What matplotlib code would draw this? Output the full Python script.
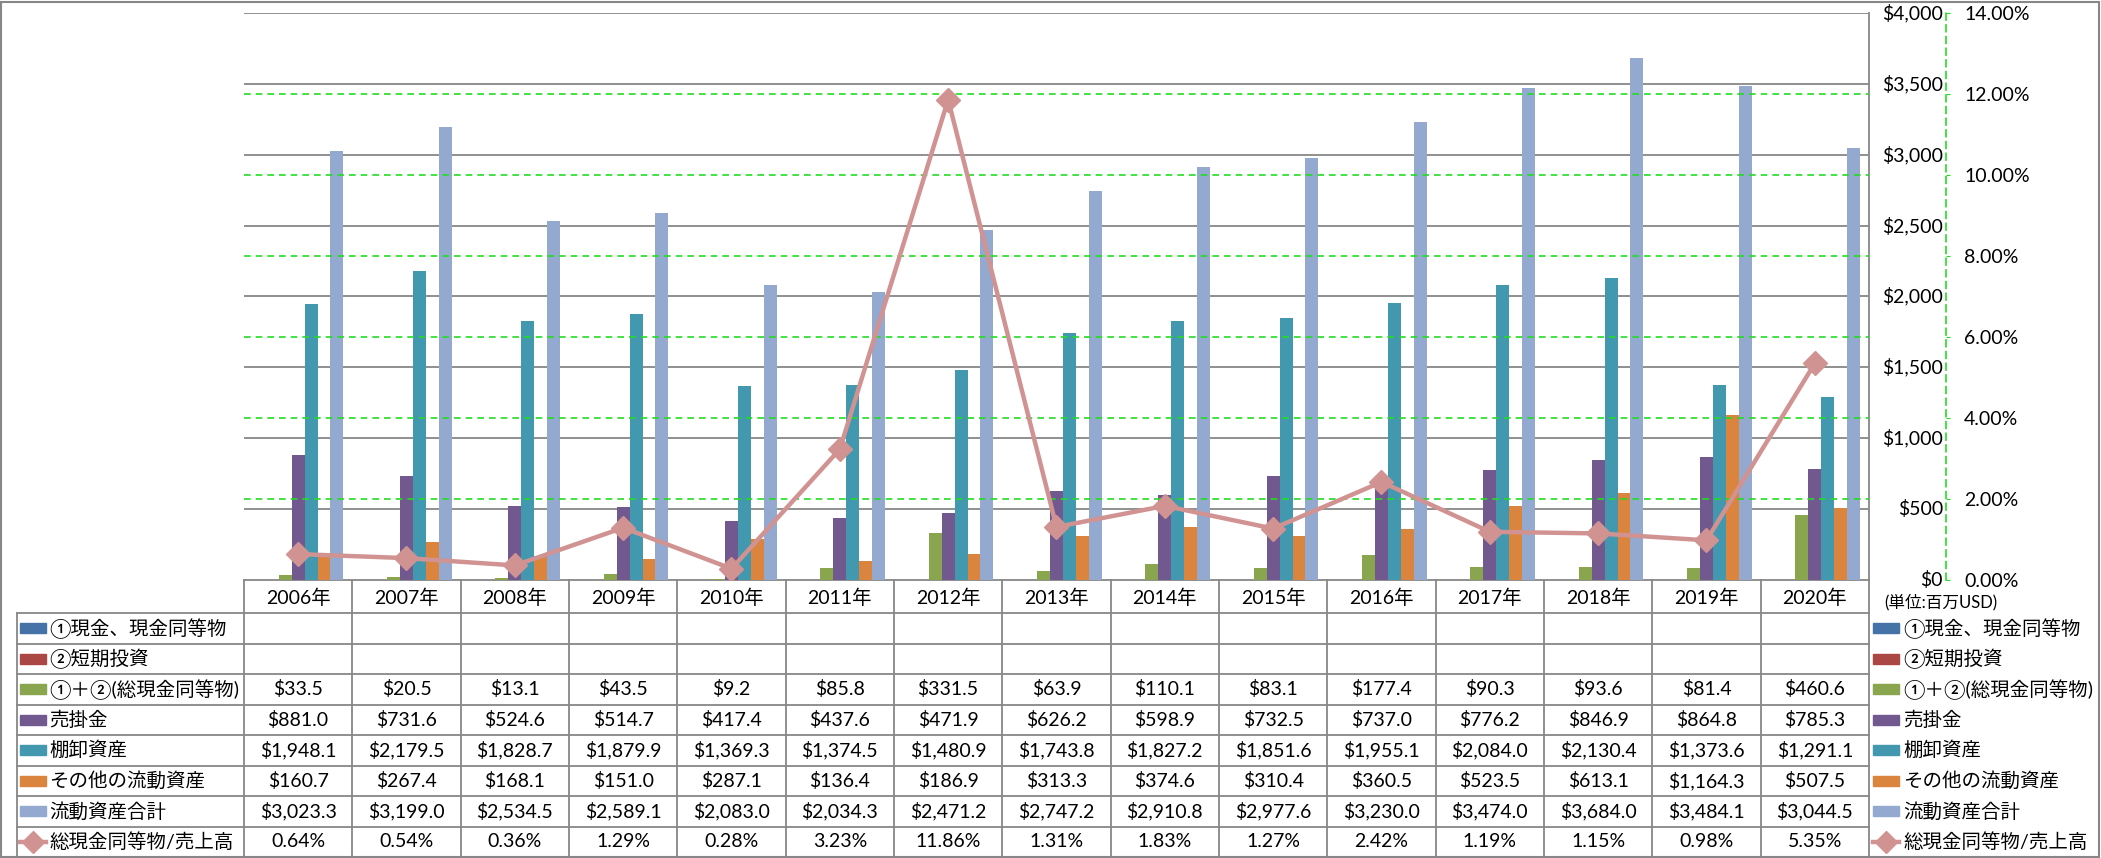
import matplotlib
matplotlib.use("Agg")
import matplotlib.pyplot as plt
import numpy as np
from matplotlib.lines import Line2D
from matplotlib.patches import Rectangle
from matplotlib.transforms import Affine2D, blended_transform_factory

# ---------------- data ----------------
years = ["2006年", "2007年", "2008年", "2009年", "2010年", "2011年", "2012年", "2013年",
         "2014年", "2015年", "2016年", "2017年", "2018年", "2019年", "2020年"]
series_names = ["①現金、現金同等物", "②短期投資", "①＋②(総現金同等物)", "売掛金",
                "棚卸資産", "その他の流動資産", "流動資産合計"]
cash = [None] * 15
short_inv = [None] * 15
total_cash = [33.5, 20.5, 13.1, 43.5, 9.2, 85.8, 331.5, 63.9, 110.1, 83.1, 177.4, 90.3, 93.6, 81.4, 460.6]
receivables = [881.0, 731.6, 524.6, 514.7, 417.4, 437.6, 471.9, 626.2, 598.9, 732.5, 737.0, 776.2, 846.9, 864.8, 785.3]
inventory = [1948.1, 2179.5, 1828.7, 1879.9, 1369.3, 1374.5, 1480.9, 1743.8, 1827.2, 1851.6, 1955.1, 2084.0, 2130.4, 1373.6, 1291.1]
other_ca = [160.7, 267.4, 168.1, 151.0, 287.1, 136.4, 186.9, 313.3, 374.6, 310.4, 360.5, 523.5, 613.1, 1164.3, 507.5]
total_ca = [3023.3, 3199.0, 2534.5, 2589.1, 2083.0, 2034.3, 2471.2, 2747.2, 2910.8, 2977.6, 3230.0, 3474.0, 3684.0, 3484.1, 3044.5]
line_name = "総現金同等物/売上高"
ratio = [0.64, 0.54, 0.36, 1.29, 0.28, 3.23, 11.86, 1.31, 1.83, 1.27, 2.42, 1.19, 1.15, 0.98, 5.35]
unit_label = "(単位:百万USD)"
left_ticks = [0, 500, 1000, 1500, 2000, 2500, 3000, 3500, 4000]
right_ticks = [0, 2, 4, 6, 8, 10, 12, 14]

bar_series = [cash, short_inv, total_cash, receivables, inventory, other_ca, total_ca]
colors = ["#4572A7", "#AA4643", "#89A54E", "#71588F", "#4198AF", "#DB843D", "#93A9CF"]
line_color = "#D19392"
grid_gray = "#878787"
green = "#22DD22"

plt.rcParams['font.family'] = ['Lato', 'Noto Sans CJK JP', 'DejaVu Sans']
FS = 14

W, H = 2101, 858
fig = plt.figure(figsize=(W / 100, H / 100), dpi=100)
T = Affine2D().scale(1 / W, -1 / H).translate(0, 1) + fig.transFigure

L, R, TOP, BOT = 244, 1869, 13, 580
ax = fig.add_axes([L / W, 1 - BOT / H, (R - L) / W, (BOT - TOP) / H])
n = len(years)
x = np.arange(n)
ax.set_xlim(-0.5, n - 0.5)
ax.set_ylim(0, 4000)
bw = 0.119
for k, (vals, c) in enumerate(zip(bar_series, colors)):
    v = [np.nan if a is None else a for a in vals]
    ax.bar(x + (k - 3) * bw, v, width=bw, color=c, zorder=3)
for yv in left_ticks[1:]:
    ax.axhline(yv, color=grid_gray, lw=1.3, zorder=1)
ax.set_yticks([])
ax.set_xticks([])
# primary value labels, right-aligned at a fixed pixel column
tl = blended_transform_factory(T, ax.transData)
for v in left_ticks:
    ax.text(1943, v, "${:,}".format(v), transform=tl, ha='right', va='center',
            fontsize=FS, clip_on=False)
for s in ['top', 'left']:
    ax.spines[s].set_visible(False)
for s in ['right', 'bottom']:
    ax.spines[s].set_color(grid_gray)
    ax.spines[s].set_linewidth(1.3)

ax2 = ax.twinx()
ax2.set_ylim(0, 14)
for yv in right_ticks[1:-1]:
    ax2.axhline(yv, color=green, lw=1.2, ls=(0, (4, 3)), zorder=1)
ax2.plot(x, ratio, color=line_color, lw=3.2, marker='D', ms=12, mec=line_color,
         mfc=line_color, solid_joinstyle='round', zorder=5)
ax2.set_yticks(right_ticks)
ax2.set_yticklabels(["{:.2f}%".format(v) for v in right_ticks])
ax2.spines['right'].set_position(('outward', (1946 - R) * 0.72))
ax2.spines['right'].set_color(green)
ax2.spines['right'].set_linestyle((0, (4, 3)))
ax2.spines['right'].set_linewidth(1.2)
for s in ['top', 'left', 'bottom']:
    ax2.spines[s].set_visible(False)
ax2.tick_params(axis='y', length=3, color=green, pad=10, labelsize=FS)
ax2.set_xticks([])

# ---------------- data table ----------------
col_w = (R - L) / n
edges = [L + i * col_w for i in range(n + 1)]
row_top = 613
row_h = (857 - 613) / 8

def hline(x0, x1, y):
    fig.add_artist(Line2D([x0, x1], [y, y], color=grid_gray, lw=1.3, transform=T))

def vline(xx, y0, y1):
    fig.add_artist(Line2D([xx, xx], [y0, y1], color=grid_gray, lw=1.3, transform=T))

for e in edges:
    vline(e, BOT, 857)
vline(17, row_top, 857)
for r in range(9):
    hline(17, R, row_top + r * row_h)
for i, yr in enumerate(years):
    fig.text((edges[i] + edges[i + 1]) / 2, (BOT + row_top) / 2 + 1, yr, transform=T,
             ha='center', va='center', fontsize=FS)

def fmt_money(v):
    return "" if v is None else "${:,.1f}".format(v)

table_rows = [[fmt_money(v) for v in s] for s in bar_series] + [["{:.2f}%".format(v) for v in ratio]]
all_names = series_names + [line_name]
for r in range(8):
    yc = row_top + (r + 0.5) * row_h
    for i in range(n):
        fig.text((edges[i] + edges[i + 1]) / 2, yc, table_rows[r][i], transform=T,
                 ha='center', va='center', fontsize=FS)
    for (kx, tx) in [(20, 49), (1873, 1903)]:
        if r < 7:
            fig.add_artist(Rectangle((kx, yc - 5), 26, 10, color=colors[r], transform=T))
        else:
            fig.add_artist(Line2D([kx, kx + 26], [yc, yc], color=line_color, lw=3.2,
                                  transform=T))
            fig.add_artist(Line2D([kx + 13], [yc], color=line_color, marker='D', ms=11,
                                  transform=T))
        fig.text(tx, yc, all_names[r], transform=T, ha='left', va='center', fontsize=FS)

fig.text(1884, 602, unit_label, transform=T, ha='left', va='center', fontsize=12)

# outer frame
fig.add_artist(Rectangle((1, 2), 2098, 855, fill=False, ec=grid_gray, lw=1.5, transform=T))

fig.savefig("out.png", dpi=100)
